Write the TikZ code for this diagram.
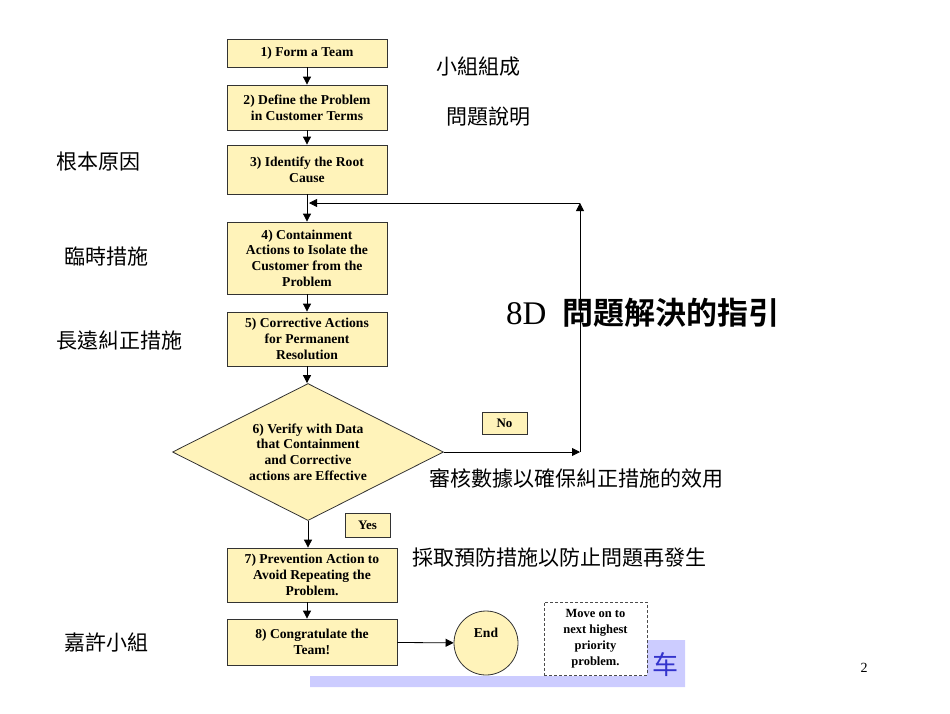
\documentclass[tikz,border=0pt]{standalone}
\usepackage{fontspec}
\setmainfont{Liberation Serif}
\newfontfamily\cjk{Noto Sans CJK TC}[BoldFont=* Bold]
\newfontfamily\cjksc{Noto Sans CJK SC}
\usepackage{xcolor}
\usepackage{tikz}
\usetikzlibrary{shapes,arrows,positioning,calc,arrows.meta}
\definecolor{boxyellow}{RGB}{255,243,186}
\definecolor{bandblue}{RGB}{204,204,255}
\definecolor{titleblue}{RGB}{51,51,204}

\begin{document}
\begin{tikzpicture}[
    x=1pt, y=-1pt,
    every node/.style={inner sep=0pt},
    stepbox/.style={draw=black!80, line width=0.8pt, fill=boxyellow, minimum width=160pt, align=center, font=\fontsize{13.6}{15.7}\selectfont\bfseries},
    decision/.style={diamond, draw=black!80, line width=0.8pt, fill=boxyellow, aspect=1.98, minimum width=271pt, minimum height=137pt, align=center, font=\fontsize{13.6}{15.7}\selectfont\bfseries},
    tag/.style={draw=black!80, line width=0.8pt, fill=boxyellow, font=\fontsize{13}{14}\selectfont\bfseries},
    note/.style={anchor=west, font=\cjk\fontsize{21}{24}\selectfont},
    flow/.style={-{Triangle[length=8pt,width=8pt]}, line width=0.8pt}
]
    \useasboundingbox (0,0) rectangle (950,713);
    \fill[bandblue] (310,676) -- (647,676) -- (647,640) -- (685,640) -- (685,687) -- (310,687) -- cycle;
    \node[font=\cjksc\fontsize{26}{28}\selectfont, text=titleblue] (bandtext) at (665,665) {车};

    \node[stepbox, minimum height=28pt] (form) at (307,53) {1) Form a Team};
    \node[stepbox, minimum height=45pt] (define) at (307,107.5) {2) Define the Problem\\in Customer Terms};
    \node[stepbox, minimum height=49pt] (root) at (307,169.5) {3) Identify the Root\\Cause};
    \node[stepbox, minimum height=72pt] (contain) at (307,258) {4) Containment\\Actions to Isolate the\\Customer from the\\Problem};
    \node[stepbox, minimum height=54pt] (correct) at (307,339) {5) Corrective Actions\\for Permanent\\Resolution};
    \node[decision] (verify) at (308,452) {6) Verify with Data\\that Containment\\and Corrective\\actions are Effective};
    \node[stepbox, minimum width=170pt, minimum height=54pt] (prevent) at (312,575) {7) Prevention Action to\\Avoid Repeating the\\Problem.};
    \node[stepbox, minimum width=170pt, minimum height=46pt] (congrats) at (312,642) {8) Congratulate the\\Team!};
    \node[circle, draw=black!80, line width=0.8pt, fill=boxyellow, minimum size=64pt,
        label={[font=\fontsize{13.6}{15}\selectfont\bfseries, yshift=10pt]center:End}] (done) at (486,643) {};
    \node[draw=black!70, dash pattern=on 3pt off 2pt, line width=0.8pt, fill=white, minimum width=103pt, minimum height=73pt,
        align=center, font=\fontsize{12.5}{16}\selectfont\bfseries] (moveon) at (595.5,638.5) {Move on to\\next highest\\priority\\problem.};
    \node[tag, minimum width=45pt, minimum height=24pt] (yes) at (367.5,525) {Yes};
    \node[tag, minimum width=45pt, minimum height=22pt] (no) at (504.5,423) {No};

    \coordinate (loopright) at (580,452);
    \coordinate (looptop) at (580,203);
    \draw[flow] (form) -- (define);
    \draw[flow] (define) -- (root);
    \draw[flow] (root) -- (contain);
    \draw[flow] (contain) -- (correct);
    \draw[flow] (correct.south) -- (correct.south |- verify.north);
    \draw[flow] (verify.south) -- (prevent.north -| verify.south);
    \draw[flow] (prevent.south -| form) -- (congrats.north -| form);
    \draw[flow] (congrats) -- (done);
    \draw[flow] (verify.east) -- (loopright);
    \draw[flow] (loopright) -- (looptop);
    \draw[flow] (looptop) -- ($(looptop -| root)+(2,0)$);

    \node[note] (teamnote) at (436,67) {小組組成};
    \node[note] (definenote) at (446,117) {問題說明};
    \node[note] (rootnote) at (56,162) {根本原因};
    \node[note] (containnote) at (64,257) {臨時措施};
    \node[note] (correctnote) at (56,340) {長遠糾正措施};
    \node[note] (verifynote) at (429,478) {審核數據以確保糾正措施的效用};
    \node[note] (preventnote) at (412,558) {採取預防措施以防止問題再發生};
    \node[note] (congratsnote) at (64,642) {嘉許小組};
    \node[anchor=west, font=\cjk\fontsize{31}{34}\selectfont] (title) at (506,313) {\makebox[56pt][l]{\rmfamily\fontsize{33}{34}\selectfont 8D}\textbf{問題解決的指引}};
    \node[font=\fontsize{14}{16}\selectfont] (pagenum) at (864,668) {2};
\end{tikzpicture}
\end{document}
